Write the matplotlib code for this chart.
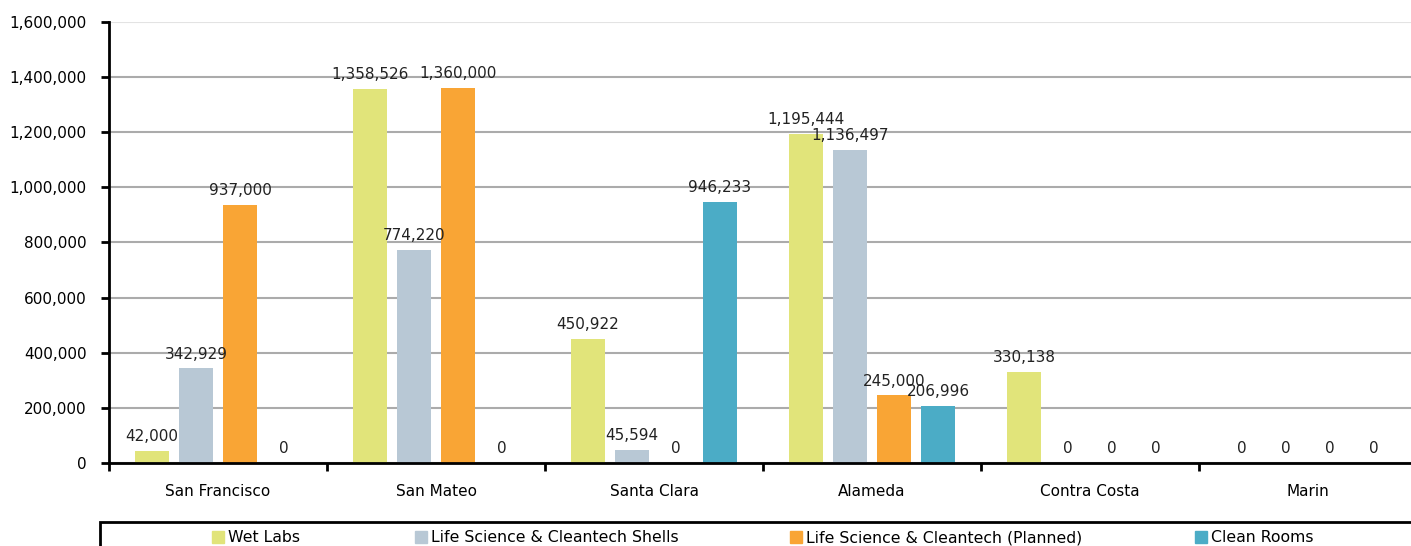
import matplotlib
matplotlib.use('Agg')
import matplotlib.pyplot as plt
import matplotlib.patches as mpatches
import numpy as np
from matplotlib.ticker import FuncFormatter, FixedLocator

counties = ['San Francisco', 'San Mateo', 'Santa Clara', 'Alameda', 'Contra Costa', 'Marin']
series_names = ['Wet Labs', 'Life Science & Cleantech Shells',
                'Life Science & Cleantech (Planned)', 'Clean Rooms']
wet_labs = [42000, 1358526, 450922, 1195444, 330138, 0]
shells = [342929, 774220, 45594, 1136497, 0, 0]
planned = [937000, 1360000, 0, 245000, 0, 0]
clean_rooms = [0, 0, 946233, 206996, 0, 0]
colors = ['#E1E47A', '#B8C8D5', '#F9A535', '#4BACC6']

plt.rcParams['font.family'] = ['DejaVu Sans']

fig = plt.figure(figsize=(14.11, 5.46), dpi=100)
ax = fig.add_axes([109 / 1411, 1 - 463 / 546, 6 * 218 / 1411, (463 - 22) / 546])

x = np.arange(len(counties))
step = 44 / 218
width = 34 / 218
all_series = [wet_labs, shells, planned, clean_rooms]
for i, (vals, c) in enumerate(zip(all_series, colors)):
    pos = x + (i - 1.5) * step
    ax.bar(pos, vals, width=width, color=c, zorder=3, label=series_names[i])
    for p, v in zip(pos, vals):
        ax.annotate(f'{v:,}', (p, v), xytext=(0, 5), textcoords='offset points',
                    ha='center', va='bottom', fontsize=11, color='#222222', zorder=4)

ax.set_xlim(-0.5, 5.5)
ax.set_ylim(0, 1600000)
ax.yaxis.set_major_locator(FixedLocator(np.arange(0, 1600001, 200000)))
ax.yaxis.set_major_formatter(FuncFormatter(lambda v, _: f'{int(v):,}'))
ax.grid(axis='y', color='#ABABAB', linewidth=1.5, zorder=0)
ax.get_ygridlines()[-1].set_color('#E3E3E3')

ax.set_xticks(x)
ax.set_xticklabels(counties, fontsize=11)
ax.tick_params(axis='x', which='major', length=0, pad=15)
ax.set_xticks(np.arange(-0.5, 6, 1), minor=True)
ax.tick_params(axis='x', which='minor', length=6, width=2, direction='out')
ax.tick_params(axis='y', length=6, width=2, labelsize=11, pad=10)

for s in ['top', 'right']:
    ax.spines[s].set_visible(False)
for s in ['left', 'bottom']:
    ax.spines[s].set_linewidth(2)
    ax.spines[s].set_zorder(5)

# legend frame (cut off by the figure edge)
frame = mpatches.Rectangle((100 / 1411, -0.05), 1.0, (1 - 522 / 546) + 0.05,
                           transform=fig.transFigure, fill=False,
                           edgecolor='black', linewidth=2)
fig.patches.append(frame)

# one legend per entry so the spacing follows the original
legend_x = [212, 415, 790, 1195]
for name, c, lx in zip(series_names, colors, legend_x):
    fig.legend([mpatches.Patch(color=c)], [name], loc='center left',
               bbox_to_anchor=(lx / 1411, 1 - 538 / 546), frameon=False,
               fontsize=11.3, handlelength=0.75, handleheight=0.75,
               handletextpad=0.3, borderpad=0, borderaxespad=0)

fig.savefig('out.png', dpi=100)
